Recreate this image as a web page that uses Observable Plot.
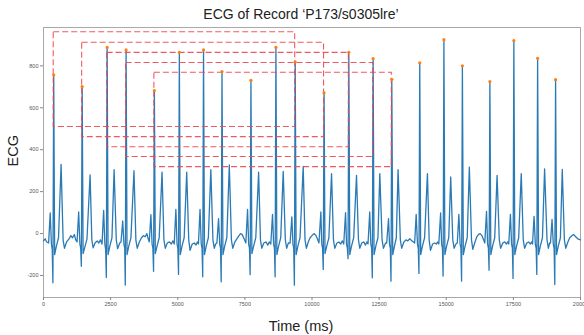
<!DOCTYPE html>
<html><head><meta charset="utf-8">
<script src="https://cdn.jsdelivr.net/npm/d3@7"></script>
<script src="https://cdn.jsdelivr.net/npm/@observablehq/plot@0.6"></script>
<style>body{margin:0;background:#fff}</style>
</head><body><div id="chart"></div>
<script>
const title = "ECG of Record \u2018P173/s0305lre\u2019";
const xLabel = "Time (ms)";
const yLabel = "ECG";
const xTicks = [0, 2500, 5000, 7500, 10000, 12500, 15000, 17500, 20000];
const yTicks = [-200, 0, 200, 400, 600, 800];

// detected R peaks (orange dots)
const peakTime = [380, 1440, 2370, 3076, 4129, 5059, 5960, 6648, 7726, 8656, 9374,
  10449, 11372, 12276, 12972, 14013, 14913, 15601, 16625, 17518, 18403, 19072];
const peakValue = [757, 701, 888, 876, 682, 865, 876, 773, 731, 888, 819,
  671, 865, 835, 736, 814, 925, 800, 725, 920, 836, 734];

// red dashed boxes: from peak index to peak index, with top / bottom levels
const boxFrom = [0, 1, 2, 3, 4];
const boxTo = [10, 11, 12, 13, 14];
const boxTop = [960, 910, 862, 814, 767];
const boxBottom = [508, 460, 412, 365, 317];

// ECG trace [time ms, value]
const ecgPoints = [
  [0,-35],[60,-25],[120,-40],
  [190,-45],[250,98],[295,-50],[325,-75],[350,-235],[380,757],[415,-100],[480,-60],[560,-20],[655,330],[730,-30],[780,-70],[860,-40],
  [950,-25],[1020,-10],[1080,-20],[1150,-5],[1200,-30],
  [1250,-40],[1310,103],[1355,-50],[1385,-70],[1410,-156],[1440,701],[1475,-95],[1540,-65],[1620,-25],[1735,280],[1800,-30],[1850,-68],[1920,-45],
  [2000,-35],[2060,-45],[2120,-30],
  [2180,-50],[2240,110],[2285,-50],[2315,-75],[2340,-210],[2370,888],[2405,-100],[2470,-60],[2550,-20],[2630,305],[2710,-30],[2760,-72],[2840,-45],
  [2886,-40],[2950,60],[2995,-50],[3025,-70],[3046,-246],[3076,876],[3111,-100],[3176,-60],[3256,-20],[3370,300],[3440,-30],[3490,-70],[3570,-40],
  [3650,-20],[3720,-10],[3790,-15],[3850,0],[3900,-25],
  [3939,-40],[4000,90],[4044,-50],[4074,-70],[4099,-180],[4129,682],[4164,-95],[4229,-60],[4309,-20],[4415,293],[4485,-30],[4535,-70],[4609,-45],
  [4690,-40],[4760,-50],[4820,-35],
  [4869,-50],[4930,115],[4974,-50],[5004,-70],[5029,-195],[5059,865],[5094,-100],[5159,-60],[5239,-20],[5334,293],[5409,-30],[5459,-80],[5539,-50],
  [5620,-45],[5680,-55],[5730,-40],
  [5770,-50],[5830,115],[5875,-50],[5905,-70],[5930,-206],[5960,876],[5995,-100],[6060,-60],[6140,-20],[6232,305],[6310,-30],[6360,-70],[6410,-50],
  [6458,-45],[6520,71],[6563,-50],[6593,-70],[6618,-230],[6648,773],[6683,-100],[6748,-60],[6828,-20],[6920,328],[6998,-30],[7048,-70],[7128,-40],
  [7200,-25],[7280,-10],[7340,0],[7400,-5],[7470,-25],
  [7536,-45],[7600,115],[7641,-50],[7671,-70],[7696,-196],[7726,731],[7761,-95],[7826,-60],[7906,-20],[8012,293],[8080,-30],[8130,-70],[8206,-45],
  [8290,-40],[8350,-55],[8410,-40],
  [8466,-50],[8530,92],[8571,-50],[8601,-70],[8626,-206],[8656,888],[8691,-100],[8756,-60],[8836,-20],[8928,297],[9006,-30],[9056,-70],[9120,-45],
  [9184,-45],[9250,80],[9289,-50],[9319,-70],[9344,-246],[9374,819],[9409,-100],[9474,-60],[9554,-20],[9672,320],[9740,-30],[9790,-70],[9860,-40],
  [9930,-20],[10000,-10],[10070,0],[10140,-8],[10200,-25],
  [10259,-45],[10330,103],[10364,-50],[10394,-70],[10419,-171],[10449,671],[10484,-95],[10549,-60],[10629,-20],[10728,286],[10799,-30],[10849,-70],[10929,-45],
  [11000,-40],[11070,-50],[11130,-35],
  [11182,-50],[11250,100],[11287,-50],[11317,-70],[11342,-120],[11372,865],[11407,-100],[11472,-60],[11552,-20],[11658,278],[11730,-30],[11780,-70],[11852,-45],
  [11930,-40],[11990,-55],[12040,-40],
  [12086,-50],[12150,103],[12191,-50],[12221,-70],[12246,-211],[12276,835],[12311,-100],[12376,-60],[12456,-20],[12525,286],[12610,-30],[12660,-70],[12740,-45],
  [12782,-45],[12850,71],[12887,-50],[12917,-70],[12942,-227],[12972,736],[13007,-100],[13072,-60],[13140,-20],[13206,305],[13290,-30],[13340,-70],[13420,-40],
  [13500,-30],[13570,-35],[13640,-25],[13720,-35],[13780,-40],
  [13823,-45],[13880,92],[13928,-50],[13958,-70],[13983,-190],[14013,814],[14048,-100],[14113,-60],[14193,-20],[14299,286],[14363,-30],[14413,-80],[14493,-50],
  [14570,-45],[14630,-50],[14680,-40],
  [14723,-50],[14790,98],[14828,-50],[14858,-70],[14883,-203],[14913,925],[14948,-100],[15013,-60],[15093,-20],[15166,270],[15243,-30],[15293,-70],[15360,-50],
  [15411,-45],[15470,92],[15516,-50],[15546,-70],[15571,-227],[15601,800],[15636,-100],[15701,-60],[15781,-20],[15860,317],[15940,-30],[15990,-75],[16070,-40],
  [16140,-15],[16200,-5],[16260,0],[16330,-10],[16390,-30],
  [16435,-45],[16500,106],[16540,-50],[16570,-70],[16595,-175],[16625,725],[16660,-100],[16725,-60],[16805,-20],[16893,278],[16975,-30],[17025,-70],[17105,-45],
  [17180,-40],[17240,-50],[17290,-40],
  [17328,-50],[17390,92],[17433,-50],[17463,-70],[17488,-214],[17518,920],[17553,-100],[17618,-60],[17698,-20],[17793,286],[17868,-30],[17918,-70],[17998,-45],
  [18070,-40],[18130,-50],[18180,-40],
  [18213,-50],[18270,82],[18318,-50],[18348,-70],[18373,-195],[18403,836],[18438,-100],[18503,-60],[18583,-20],[18663,309],[18753,-30],[18803,-70],[18850,-45],
  [18882,-45],[18940,67],[18987,-50],[19017,-70],[19042,-243],[19072,734],[19107,-100],[19172,-60],[19252,-20],[19321,306],[19400,-30],[19450,-70],[19530,-40],
  [19600,-20],[19680,-10],[19750,-5],[19820,-15],[19900,-25],[20000,-30]
];

const peaks = peakTime.map((t, i) => ({t, v: peakValue[i]}));
const boxes = boxFrom.map((f, i) => ({
  x1: peakTime[f], x2: peakTime[boxTo[i]], y1: boxBottom[i], y2: boxTop[i]
}));

const font = "Liberation Sans, Arial, Helvetica, sans-serif";

const chart = Plot.plot({
  width: 584,
  height: 335,
  marginLeft: 43,
  marginRight: 4,
  marginTop: 27,
  marginBottom: 38,
  style: {fontFamily: font, background: "#fff", color: "#444"},
  x: {domain: [0, 20000]},
  y: {domain: [-305, 983]},
  marks: [
    Plot.frame({stroke: "#a8a8a8", strokeWidth: 1}),
    Plot.axisX({ticks: xTicks, tickSize: 3, tickPadding: 2, fontSize: 5.5, label: null, tickFormat: d => String(d), stroke: "#888", fill: "#555"}),
    Plot.axisY({ticks: yTicks, tickSize: 3, tickPadding: 2, fontSize: 5.5, label: null, tickFormat: d => String(d), stroke: "#888", fill: "#555"}),
    Plot.line(ecgPoints, {x: d => d[0], y: d => d[1], stroke: "#2a7ab5", strokeWidth: 1.3}),
    Plot.rect(boxes, {x1: "x1", x2: "x2", y1: "y1", y2: "y2", fill: "none", stroke: "#f0474f", strokeWidth: 1.1, strokeDasharray: "6,3", strokeOpacity: 0.9}),
    Plot.dot(peaks, {x: "t", y: "v", r: 1.6, fill: "#ff7f0e", stroke: "none"}),
    Plot.text([title], {frameAnchor: "top", dx: -11, dy: -9, lineAnchor: "bottom", fontSize: 14, fill: "#222"}),
    Plot.text([xLabel], {frameAnchor: "bottom", dx: -11, dy: 23, lineAnchor: "top", fontSize: 14.5, fill: "#222"}),
    Plot.text([yLabel], {frameAnchor: "left", dx: -30, dy: 4, rotate: -90, fontSize: 14.5, fill: "#222"})
  ]
});
document.getElementById("chart").appendChild(chart);
</script>
</body></html>
